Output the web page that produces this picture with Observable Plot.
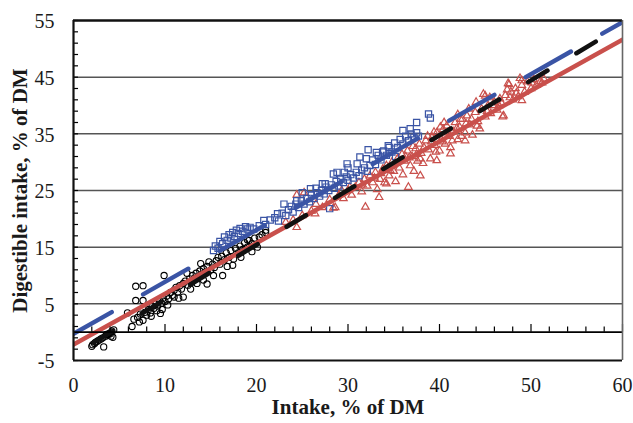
<!DOCTYPE html>
<html><head><meta charset="utf-8">
<script src="https://cdn.jsdelivr.net/npm/d3@7"></script>
<script src="https://cdn.jsdelivr.net/npm/@observablehq/plot@0.6"></script>
<style>
html,body{margin:0;padding:0;background:#fff;}
#chart{width:633px;height:423px;}
</style></head><body><div id="chart"></div>
<script>
const xTickLabels = [0,10,20,30,40,50,60];
const yTickLabels = [-5,5,15,25,35,45,55];
const xMinorTicks = [0,2,4,6,8,10,12,14,16,18,20,22,24,26,28,30,32,34,36,38,40,42,44,46,48,50,52,54,56,58,60];
const yMinorTicks = [-5,-3,-1,1,3,5,7,9,11,13,15,17,19,21,23,25,27,29,31,33,35,37,39,41,43,45,47,49,51,53,55];
const gridValues = [5,15,25,35,45];

const blackPoints = [[2.0,-2.5],[2.1,-2.2],[2.3,-2.0],[2.4,-1.8],[2.6,-1.6],[2.8,-1.4],[3.0,-1.2],[3.2,-1.0],[3.3,-2.6],[3.5,-0.7],[3.6,-0.4],[3.7,-0.5],[3.9,-0.2],[4.0,-0.3],[4.1,-0.7],[4.2,0.2],[4.4,0.4],[4.3,-0.9],
[5.9,3.4],[6.4,1.0],[6.6,2.3],[6.8,8.1],[7.6,8.2],[6.8,5.6],[7.6,5.6],[7.0,2.6],[7.2,1.8],[7.3,3.2],[7.6,2.1],[7.8,3.5],[8.0,3.0],[8.2,4.0],[8.4,3.4],[8.5,2.8],[8.6,4.6],[8.8,4.2],[9.0,5.0],[9.1,3.8],[9.2,4.6],[9.4,5.6],[9.5,3.3],[9.6,5.1],[9.7,4.0],[9.9,10.0],[9.8,6.0],[10.0,5.4],[10.2,6.4],[10.3,4.8],[10.4,5.9],[10.6,7.0],[10.8,6.5],[11.0,6.2],[11.0,7.4],[11.2,7.9],[11.4,7.1],[11.5,6.0],[11.6,8.2],[11.8,7.6],[12.0,6.2],[12.0,8.6],[12.2,9.0],[12.4,10.4],[12.5,8.3],[12.7,9.4],[12.8,7.6],[12.9,8.8],[13.0,10.0],[13.2,9.5],[13.4,10.4],[13.5,8.6],[13.6,9.8],[13.9,12.1],[13.8,10.8],[14.0,10.2],[14.2,11.2],[14.2,9.2],[14.4,10.6],[14.6,8.5],[14.6,11.6],[14.8,12.4],[15.0,11.0],[15.2,12.0],[15.3,10.0],[15.4,11.4],[15.6,12.6],[15.8,13.2],[16.0,12.0],[16.3,10.0],[16.2,13.4],[16.5,12.8],[16.7,14.0],[16.8,11.6],[17.0,13.2],[17.2,14.4],[17.4,11.8],[17.5,12.9],[17.7,14.8],[18.0,14.0],[18.2,15.2],[18.3,13.2],[18.5,14.6],[18.7,15.8],[19.0,15.0],[19.0,16.3],[19.2,16.2],[19.5,15.6],[19.5,14.2],[19.8,16.6],[20.1,15.0],[20.3,16.8],[20.6,17.2],[21.0,17.6],[21.0,18.0]];

const bluePoints = [[15.3,14.4],[15.5,15.2],[15.8,14.8],[16.0,16.0],[16.3,15.6],[16.5,16.8],[16.8,16.2],[17.0,17.2],[17.2,16.6],[17.4,17.6],[17.6,16.9],[17.8,18.0],[18.0,17.4],[18.2,18.3],[18.5,17.8],[18.8,18.6],[19.0,18.2],[19.3,18.5],[19.7,18.2],[20.3,18.8],[20.8,19.7],[21.0,19.0],[21.5,19.8],[22.0,20.2],[22.3,20.9],[22.4,19.6],[22.8,21.0],[23.0,22.6],[23.2,20.6],[23.5,21.6],[23.8,22.2],[24.0,21.2],[24.3,22.6],[24.4,23.2],[24.6,22.0],[24.9,23.2],[25.0,24.6],[25.2,22.6],[25.5,23.6],[25.8,23.0],[25.9,25.3],[26.0,24.2],[26.3,23.6],[26.5,25.4],[26.6,24.6],[26.9,24.0],[27.1,25.0],[27.2,26.2],[27.4,24.4],[27.5,26.2],[27.6,25.6],[27.9,25.0],[28.0,21.8],[28.2,26.0],[28.4,27.9],[28.5,25.4],[28.7,26.6],[28.8,28.2],[29.0,25.8],[29.2,27.0],[29.5,26.4],[29.6,28.2],[29.8,27.4],[29.9,29.7],[30.0,26.8],[30.0,29.0],[30.3,27.8],[30.6,27.2],[30.9,28.2],[31.0,29.7],[31.2,27.6],[31.3,30.9],[31.5,28.6],[31.8,29.0],[32.0,30.6],[32.1,28.4],[32.2,32.2],[32.4,29.4],[32.7,30.4],[33.0,29.6],[33.1,31.7],[33.3,31.2],[33.6,30.4],[33.8,31.8],[33.9,32.0],[34.2,31.2],[34.4,32.9],[34.5,32.6],[34.8,31.8],[35.1,33.4],[35.2,31.0],[35.4,32.6],[35.7,34.0],[36.0,35.6],[36.0,33.2],[36.3,34.6],[36.6,33.8],[36.8,35.9],[36.9,35.0],[37.2,34.4],[37.5,37.0],[37.5,35.2],[37.7,34.6],[38.8,38.5],[39.0,37.8]];

const redPoints = [[24.4,18.5],[24.4,24.2],[25.2,24.6],[28.4,21.9],[28.6,22.0],[26.4,20.9],[31.9,22.1],[33.4,23.8],[36.6,25.6],[34.2,26.2],[37.9,27.6],
[23.2,19.4],[24.0,19.8],[25.0,20.6],[26.0,21.4],[26.5,22.6],[27.2,22.0],[28.0,23.4],[29.0,24.2],[29.3,25.0],[29.5,23.6],[30.0,25.0],[30.2,25.6],[30.4,24.2],[30.8,25.6],[31.2,26.4],[31.5,24.8],[31.6,26.0],[31.8,27.0],[32.1,25.8],[32.4,27.6],[32.7,26.4],[32.9,27.2],[33.0,28.2],[33.2,25.2],[33.5,27.0],[33.6,28.0],[33.8,28.8],[34.0,26.4],[34.2,29.4],[34.5,27.6],[34.6,28.6],[34.8,30.0],[35.0,28.4],[35.2,26.6],[35.4,30.6],[35.6,29.0],[35.9,31.4],[36.0,27.8],[36.2,30.2],[36.3,31.0],[36.5,32.0],[36.7,30.8],[36.8,29.4],[37.0,31.0],[37.1,32.8],[37.2,28.4],[37.4,32.4],[37.5,31.4],[37.6,30.2],[37.8,33.2],[37.9,30.6],[38.0,31.6],[38.2,29.8],[38.3,32.6],[38.5,33.8],[38.7,34.6],[38.8,32.2],[39.0,30.6],[39.1,33.6],[39.2,34.4],[39.4,35.3],[39.5,33.0],[39.6,31.8],[39.7,30.3],[39.7,35.2],[40.0,32.0],[40.1,36.2],[40.2,34.0],[40.3,33.6],[40.4,35.8],[40.5,37.0],[40.6,33.2],[40.8,36.4],[40.9,35.2],[41.0,34.6],[41.2,31.5],[41.2,32.6],[41.4,33.8],[41.5,35.4],[41.7,37.0],[41.9,36.0],[42.0,34.0],[42.0,38.4],[42.2,36.2],[42.3,37.6],[42.4,34.6],[42.5,37.6],[42.8,33.8],[42.8,35.2],[42.9,36.8],[43.0,38.2],[43.2,39.4],[43.3,36.6],[43.5,37.6],[43.6,34.8],[43.9,38.8],[44.0,40.6],[44.1,36.4],[44.2,37.2],[44.4,35.9],[44.6,39.4],[44.8,42.0],[45.0,38.0],[45.0,41.7],[45.2,39.0],[45.3,40.0],[45.5,41.4],[45.6,38.6],[45.8,40.0],[46.0,40.6],[46.3,39.2],[46.5,40.0],[46.6,41.2],[46.8,40.4],[46.9,38.0],[47.0,38.2],[47.2,41.8],[47.4,42.8],[47.5,43.9],[47.6,43.7],[47.7,41.4],[47.8,42.4],[48.0,41.0],[48.3,43.0],[48.4,42.2],[48.6,41.6],[48.8,44.8],[49.0,40.9],[49.0,43.6],[49.0,44.4],[49.3,42.4],[49.6,44.2],[50.0,43.0],[50.1,44.0],[50.3,44.6],[50.6,43.6],[51.0,44.2],[51.2,44.0],[51.4,44.7]];

const blueLineX = [0, 60], blueLineY = [-0.3, 54.7];
const blackLineX = [1.9, 60], blackLineY = [-2.1, 54.1];
const redLineX = [0, 60], redLineY = [-2.2, 51.6];

const xTitle = "Intake, % of DM";
const yTitle = "Digestible intake, % of DM";

const BLUE = "#3A54A5", RED = "#C9504C", BLACK = "#111";
const lineData = (xs, ys) => xs.map((x, i) => ({x, y: ys[i]}));

const chart = Plot.plot({
  width: 633, height: 423,
  marginLeft: 73, marginRight: 11, marginTop: 20, marginBottom: 63,
  x: {domain: [0, 60], axis: null},
  y: {domain: [-5, 55], axis: null},
  style: {fontFamily: "'Liberation Serif', 'Times New Roman', serif", background: "white"},
  marks: [
    Plot.ruleY(gridValues, {stroke: "#555", strokeWidth: 1.5}),
    Plot.dot(redPoints, {x: d => d[0], y: d => d[1], symbol: "triangle", r: 2.8, stroke: RED, strokeWidth: 1.2, fill: "none"}),
    Plot.dot(blackPoints, {x: d => d[0], y: d => d[1], symbol: "circle", r: 3.1, stroke: "#000", strokeWidth: 1.1, fill: "none"}),
    Plot.dot(bluePoints, {x: d => d[0], y: d => d[1], symbol: "square", r: 3.5, stroke: BLUE, strokeWidth: 1.2, fill: "none"}),
    Plot.line(lineData(redLineX, redLineY), {x: "x", y: "y", stroke: RED, strokeWidth: 4.5, clip: true}),
    Plot.line(lineData(blackLineX, blackLineY), {x: "x", y: "y", stroke: BLACK, strokeWidth: 4.6, strokeDasharray: "22.5,33.8", strokeDashoffset: -3, strokeLinecap: "round", clip: true}),
    Plot.line(lineData(blueLineX, blueLineY), {x: "x", y: "y", stroke: BLUE, strokeWidth: 4.4, strokeDasharray: "52,36", strokeDashoffset: 8, strokeLinecap: "round", clip: true}),
    // axis at y = 0 with upward ticks
    Plot.ruleY([0], {stroke: "#000", strokeWidth: 1.6}),
    Plot.ruleX(xMinorTicks, {x: d => d, y1: 0, y2: d => d % 10 === 0 ? 1.35 : 0.9, stroke: "#000", strokeWidth: 1.2}),
    Plot.ruleY(yMinorTicks, {y: d => d, x1: 0, x2: 0.55, stroke: "#000", strokeWidth: 1.2}),
    // frame
    Plot.ruleY([55], {stroke: "#111", strokeWidth: 2.4}),
    Plot.ruleY([-5], {stroke: "#111", strokeWidth: 2}),
    Plot.ruleX([60], {stroke: "#666", strokeWidth: 1.6}),
    Plot.ruleX([0], {stroke: "#111", strokeWidth: 2.2}),
    // tick labels
    Plot.text(xTickLabels, {x: d => d, y: -5, dy: 25.3, text: d => String(d), fontSize: 20, fill: "#1a1a1a"}),
    Plot.text(yTickLabels, {x: 0, y: d => d, dx: -19, dy: 1.5, textAnchor: "end", text: d => String(d), fontSize: 20, fill: "#1a1a1a"}),
    // titles
    Plot.text([xTitle], {frameAnchor: "bottom", dy: 53, text: d => d, fontSize: 21, fontWeight: "bold", fill: "#1a1a1a"}),
    Plot.text([yTitle], {frameAnchor: "left", textAnchor: "middle", dx: -53.5, rotate: -90, text: d => d, fontSize: 21, fontWeight: "bold", fill: "#1a1a1a"})
  ]
});
document.getElementById("chart").appendChild(chart);
</script></body></html>
